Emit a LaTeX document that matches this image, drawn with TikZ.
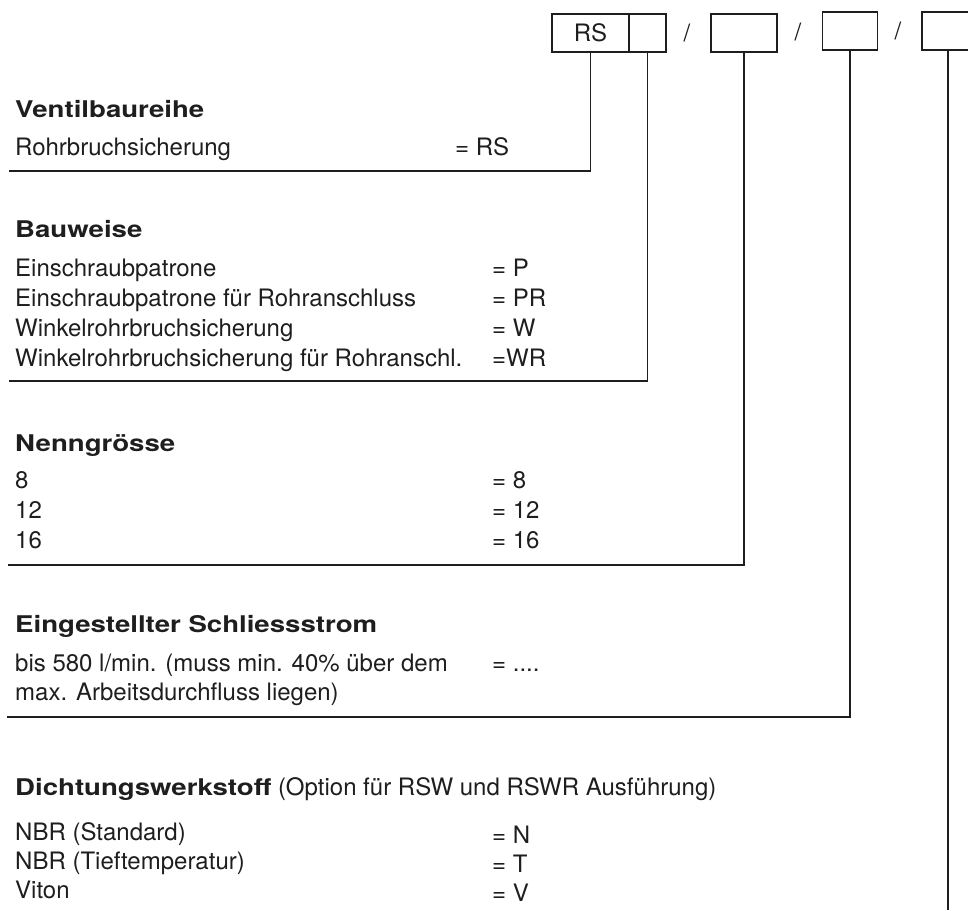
\documentclass[tikz,border=0pt]{standalone}
\usepackage{fontspec}
\setmainfont{TeX Gyre Heros}
\newfontfamily\titlefont{TeX Gyre Heros}[FakeStretch=1.2]
\definecolor{ink}{HTML}{1E1E1E}
\tikzset{
  ln/.style={line width=1.2pt, draw=ink},
  codebox/.style={draw=ink, line width=1.2pt, inner sep=0pt, minimum height=38pt,
    font=\fontsize{24}{28}\selectfont, text=ink},
  ttl/.style={anchor=base west, inner sep=0pt, font=\titlefont\bfseries\fontsize{23}{28}\selectfont, text=ink},
  txt/.style={anchor=base west, inner sep=0pt, font=\fontsize{24}{29}\selectfont, text=ink},
  sl/.style={inner sep=0pt, font=\fontsize{24}{28}\selectfont, text=ink}
}
\begin{document}
\begin{tikzpicture}[x=1pt,y=-1pt]
\useasboundingbox (0,0) rectangle (968,910);
\clip (0,0) rectangle (968,910);

% code boxes
\node[codebox, minimum width=77pt] (b1) at (590.5,33) {RS};
\node[codebox, minimum width=37pt] (b2) at (647.5,33) {};
\node[sl] (s1) at (687,33) {/};
\node[codebox, minimum width=66pt] (b3) at (744,33) {};
\node[sl] (s2) at (798,32) {/};
\node[codebox, minimum width=55.5pt] (b4) at (850,31) {};
\node[sl] (s3) at (898,31) {/};
\node[codebox, minimum width=52pt] (b5) at (948,31) {};

% line ends
\coordinate (c1) at (9,171);
\coordinate (c2) at (9,381);
\coordinate (c3) at (8,565);
\coordinate (c4) at (7,717);
\coordinate (c5) at (948,910);

\draw[ln] (b1.south) |- (c1);
\draw[ln] (b2.south) |- (c2);
\draw[ln] (b3.south) |- (c3);
\draw[ln] (b4.south) |- (c4);
\draw[ln] (b5.south) -- (c5);

% Ventilbaureihe
\node[ttl] (t1) at (15,117) {Ventilbaureihe};
\node[txt] (t1a) at (15,155) {Rohrbruchsicherung};
\node[txt] (t1b) at (455,155) {= RS};

% Bauweise
\node[ttl] (t2) at (15,237) {Bauweise};
\node[txt] (t2a) at (15,276) {Einschraubpatrone};
\node[txt] (t2b) at (15,306) {Einschraubpatrone für Rohranschluss};
\node[txt] (t2c) at (15,336) {Winkelrohrbruchsicherung};
\node[txt] (t2d) at (15,366) {Winkelrohrbruchsicherung für Rohranschl.};
\node[txt] (e2a) at (492,276) {= P};
\node[txt] (e2b) at (492,306) {= PR};
\node[txt] (e2c) at (492,336) {= W};
\node[txt] (e2d) at (492,366) {=WR};

% Nenngroesse
\node[ttl] (t3) at (15,451) {Nenngrösse};
\node[txt] (t3a) at (15,488) {8};
\node[txt] (t3b) at (15,518) {12};
\node[txt] (t3c) at (15,548) {16};
\node[txt] (e3a) at (492,488) {= 8};
\node[txt] (e3b) at (492,518) {= 12};
\node[txt] (e3c) at (492,548) {= 16};

% Schliessstrom
\node[ttl] (t4) at (15,632) {Eingestellter Schliessstrom};
\node[txt] (t4a) at (15,671) {bis 580 l/min. (muss min. 40\% über dem};
\node[txt] (t4b) at (15,700) {max. Arbeitsdurchfluss liegen)};
\node[txt] (e4a) at (492,671) {= ....};

% Dichtungswerkstoff
\node[txt] (t5) at (15,795) {{\titlefont\bfseries\fontsize{23}{28}\selectfont Dichtungswerkstoff} (Option für RSW und RSWR Ausführung)};
\node[txt] (t5a) at (15,840) {NBR (Standard)};
\node[txt] (t5b) at (15,869) {NBR (Tieftemperatur)};
\node[txt] (t5c) at (15,898) {Viton};
\node[txt] (e5a) at (492,843) {= N};
\node[txt] (e5b) at (492,872) {= T};
\node[txt] (e5c) at (492,901) {= V};
\end{tikzpicture}
\end{document}
